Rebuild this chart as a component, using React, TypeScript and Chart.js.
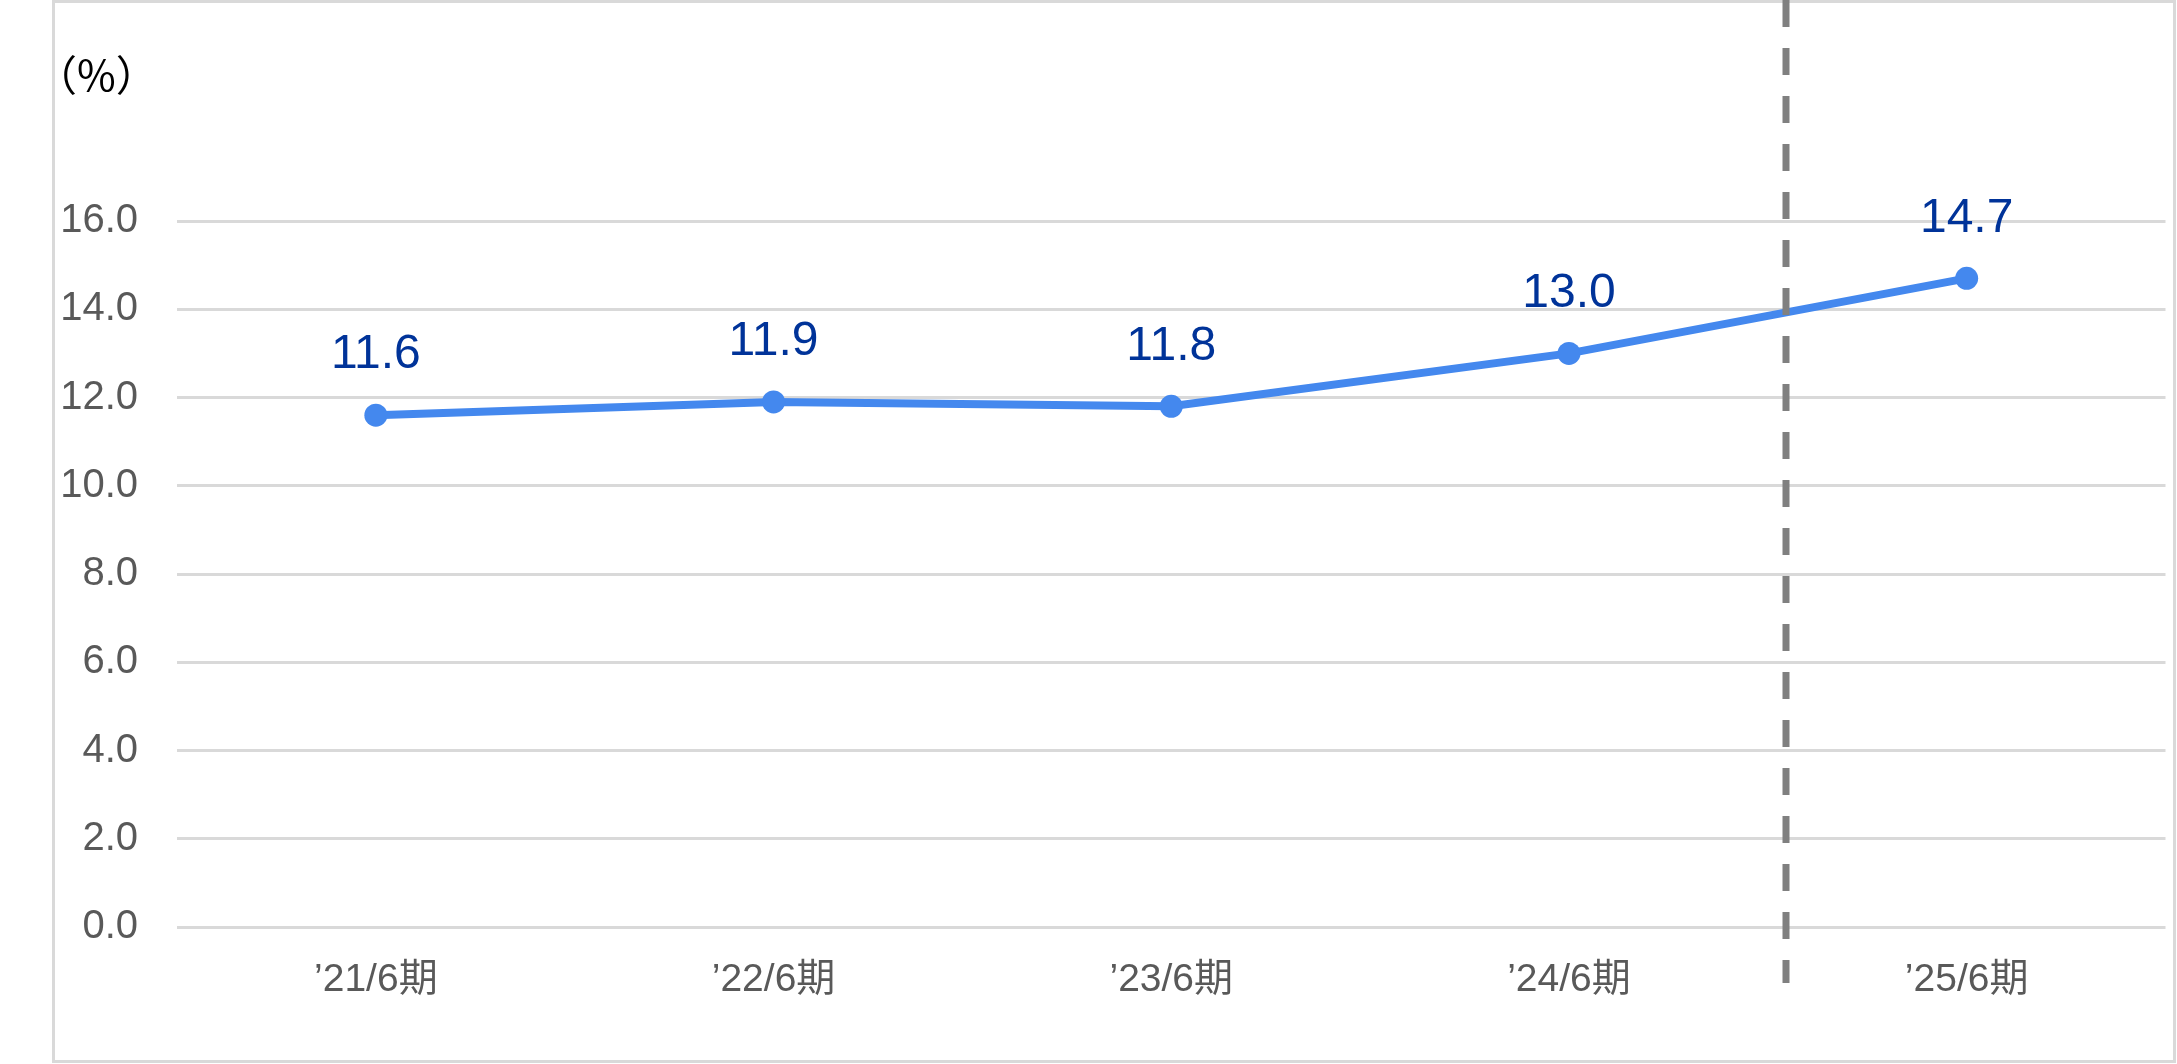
import React, { useEffect, useRef } from "react";
import { Chart, registerables } from "chart.js";

Chart.register(...registerables);

const categories = ["’21/6期", "’22/6期", "’23/6期", "’24/6期", "’25/6期"];
const values = [11.6, 11.9, 11.8, 13.0, 14.7];
const yTicks = [0, 2, 4, 6, 8, 10, 12, 14, 16];
const unitLabel = "（%）";

const FONT = "'Liberation Sans', Arial, 'Noto Sans CJK JP', sans-serif";

const decorPlugin = {
  id: "decor",
  beforeDraw(chart: any) {
    const ctx = chart.ctx;
    ctx.save();
    ctx.strokeStyle = "#d9d9d9";
    ctx.lineWidth = 3;
    ctx.strokeRect(53.5, 1.5, 2121, 1060);
    ctx.fillStyle = "#000000";
    ctx.font = "42px 'Noto Sans CJK JP', " + FONT;
    ctx.textBaseline = "middle";
    ctx.textAlign = "left";
    ctx.fillText(unitLabel, 35, 75);
    ctx.restore();
  },
  afterDatasetsDraw(chart: any) {
    const ctx = chart.ctx;
    const meta = chart.getDatasetMeta(0);
    ctx.save();
    ctx.fillStyle = "#003399";
    ctx.font = "48px " + FONT;
    ctx.textAlign = "center";
    ctx.textBaseline = "middle";
    meta.data.forEach((pt: any, i: number) => {
      ctx.fillText(values[i].toFixed(1), pt.x, pt.y - 60);
    });
    // dashed divider between actual and forecast
    const xs = chart.scales.x;
    const p3 = xs.getPixelForValue(3);
    const p4 = xs.getPixelForValue(4);
    const dx = Math.round(p3 + 0.545 * (p4 - p3));
    ctx.strokeStyle = "#808080";
    ctx.lineWidth = 7;
    ctx.setLineDash([27, 21]);
    ctx.beginPath();
    ctx.moveTo(dx, 0);
    ctx.lineTo(dx, 983);
    ctx.stroke();
    ctx.restore();
  },
};

export default function App() {
  const ref = useRef<HTMLCanvasElement | null>(null);
  useEffect(() => {
    document.body.style.margin = "0";
    const chart = new Chart(ref.current as HTMLCanvasElement, {
      type: "line",
      data: {
        labels: categories,
        datasets: [
          {
            data: values,
            borderColor: "#4488ee",
            backgroundColor: "#4488ee",
            borderWidth: 8,
            pointRadius: 11.5,
            pointHoverRadius: 11.5,
            pointBackgroundColor: "#4488ee",
            pointBorderWidth: 0,
            tension: 0,
          },
        ],
      },
      options: {
        animation: false,
        responsive: true,
        maintainAspectRatio: false,
        layout: { padding: { left: 0, right: 10, top: 221, bottom: 0 } },
        plugins: { legend: { display: false }, tooltip: { enabled: false } },
        scales: {
          x: {
            offset: true,
            grid: { display: false, drawTicks: false },
            border: { display: false },
            ticks: { color: "#595959", font: { size: 39, family: FONT }, padding: 30 },
            afterFit(scale: any) {
              scale.height = 137;
            },
          },
          y: {
            min: 0,
            max: 16,
            afterBuildTicks(scale: any) {
              scale.ticks = yTicks.map((v) => ({ value: v }));
            },
            grid: { color: "#d9d9d9", lineWidth: 3, drawTicks: false },
            border: { display: false },
            ticks: {
              color: "#595959",
              font: { size: 40, family: FONT },
              padding: 39,
              callback: (v: any) => Number(v).toFixed(1),
            },
            afterFit(scale: any) {
              scale.width = 177;
            },
          },
        },
      },
      plugins: [decorPlugin],
    });
    return () => chart.destroy();
  }, []);
  return (
    <div style={{ position: "fixed", left: 0, top: 0, width: 2177, height: 1064 }}>
      <canvas ref={ref} />
    </div>
  );
}
